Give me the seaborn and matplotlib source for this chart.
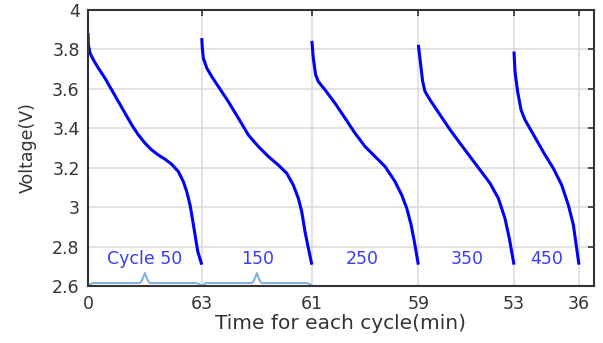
import numpy as np
import pandas as pd
import matplotlib
matplotlib.use("Agg")
import matplotlib.pyplot as plt
import seaborn as sns

# ---- data ----
cycles = [50, 150, 250, 350, 450]
durations = [63, 61, 59, 53, 36]
cycle_labels = ["Cycle 50", "150", "250", "350", "450"]

t50 = [0, 0.18, 1.1, 2.95, 5.72, 9.4, 13.1, 16.8, 20.5, 24.2, 27.9, 31.6, 35.3, 38.9,
       42.7, 46.3, 50.0, 52.8, 54.7, 56.5, 57.8, 59.3, 60.8, 63]
v50 = [3.881, 3.822, 3.780, 3.746, 3.704, 3.653, 3.594, 3.535, 3.476, 3.417, 3.366, 3.324,
       3.290, 3.265, 3.243, 3.218, 3.181, 3.130, 3.079, 3.012, 2.944, 2.860, 2.776, 2.71]

t150 = [0, 0.3, 0.9, 2.8, 5.5, 9.2, 14.7, 20.3, 25.8, 31.4, 36.9, 42.4, 47.1, 50.7,
        53.5, 55.4, 57.2, 59.1, 61]
v150 = [3.856, 3.805, 3.754, 3.704, 3.662, 3.611, 3.535, 3.451, 3.366, 3.307, 3.257,
        3.214, 3.172, 3.113, 3.046, 2.978, 2.877, 2.792, 2.71]

t250 = [0, 0.8, 2.1, 3.6, 7.3, 12.8, 18.4, 23.9, 29.5, 35.0, 40.6, 46.1, 49.8, 52.6,
        55.0, 56.8, 59]
v250 = [3.842, 3.754, 3.670, 3.636, 3.594, 3.527, 3.451, 3.375, 3.307, 3.257, 3.206,
        3.130, 3.062, 2.995, 2.911, 2.826, 2.71]

t350 = [0, 1.3, 2.4, 3.7, 6.5, 12.0, 17.6, 23.1, 28.6, 34.2, 39.7, 44.3, 48.0, 50.4, 53]
v350 = [3.822, 3.721, 3.636, 3.586, 3.543, 3.468, 3.392, 3.324, 3.257, 3.189, 3.122,
        3.046, 2.944, 2.843, 2.71]

t450 = [0, 0.55, 2.0, 3.9, 6.1, 9.8, 13.5, 17.2, 21.8, 26.4, 30.1, 32.9, 34.2, 36]
v450 = [3.788, 3.687, 3.586, 3.493, 3.442, 3.383, 3.324, 3.265, 3.197, 3.113, 3.012,
        2.911, 2.826, 2.71]

times = [t50, t150, t250, t350, t450]
volts = [v50, v150, v250, v350, v450]

# ---- build long table ----
offsets = np.concatenate([[0], np.cumsum(durations)])
rows = []
for c, off, ts, vs in zip(cycles, offsets[:-1], times, volts):
    for t, v in zip(ts, vs):
        rows.append({"cycle": c, "x": off + t, "V": v})
df = pd.DataFrame(rows)

sns.set_theme(style="white")
plt.rcParams['font.family'] = ['DejaVu Sans']

fig = plt.figure(figsize=(6.03, 3.43), dpi=100)
ax = fig.add_axes([0.146, 0.165, 0.839, 0.807])

sns.lineplot(data=df, x="x", y="V", units="cycle", estimator=None, sort=False,
             color="#0000ff", linewidth=2.2, ax=ax, legend=False)
for ln in ax.get_lines():
    ln.set_solid_joinstyle("round")
    ln.set_solid_capstyle("butt")

ax.set_xlim(0, 280.3)
ax.set_ylim(2.6, 4.0)
ax.set_xticks(offsets)
ax.set_xticklabels(["0"] + [str(d) for d in durations])
ax.set_yticks([2.6, 2.8, 3.0, 3.2, 3.4, 3.6, 3.8, 4.0])
ax.set_yticklabels(["2.6", "2.8", "3", "3.2", "3.4", "3.6", "3.8", "4"])
ax.grid(True, color="#dadada", linewidth=1.1)
ax.set_axisbelow(True)
ax.tick_params(direction="in", length=4, width=1.2, color="#333333",
               labelsize=12.5, labelcolor="#333333", top=True, right=True,
               labeltop=False, labelright=False)
ax.tick_params(axis="x", pad=6)
ax.tick_params(axis="y", pad=6)
for s in ax.spines.values():
    s.set_color("#333333")
    s.set_linewidth(1.5)
ax.set_xlabel("Time for each cycle(min)", fontsize=14.5, color="#333333", labelpad=1)
ax.set_ylabel("Voltage(V)", fontsize=12.5, color="#333333", labelpad=11)

# cycle labels
label_x = [31.6, 94.0, 152.0, 210.0, 254.0]
for lx, lab in zip(label_x, cycle_labels):
    ax.text(lx, 2.739, lab, color="#3c3cf5", fontsize=12.5, ha="center", va="center")

# curly braces under first two segments
def brace(x0, x1, ybase=2.603, yflat=2.617, ytip=2.668):
    xm = (x0 + x1) / 2
    w = x1 - x0
    s = np.linspace(0, 1, 25)
    xs, ys = [], []
    c = 0.05 * w
    xs += list(x0 + c * s); ys += list(ybase + (yflat - ybase) * np.sin(s * np.pi / 2))
    xs += [xm - c]; ys += [yflat]
    xs += list(xm - c + c * s); ys += list(yflat + (ytip - yflat) * (1 - np.cos(s * np.pi / 2)))
    xs += list(xm + c * s); ys += list(ytip - (ytip - yflat) * np.sin(s * np.pi / 2))
    xs += [x1 - c]; ys += [yflat]
    xs += list(x1 - c + c * s); ys += list(yflat - (yflat - ybase) * (1 - np.cos(s * np.pi / 2)))
    ax.plot(xs, ys, color="#7aafe0", linewidth=1.4, solid_joinstyle="round")

brace(offsets[0], offsets[1])
brace(offsets[1], offsets[2])

fig.savefig("out.png", dpi=100)
